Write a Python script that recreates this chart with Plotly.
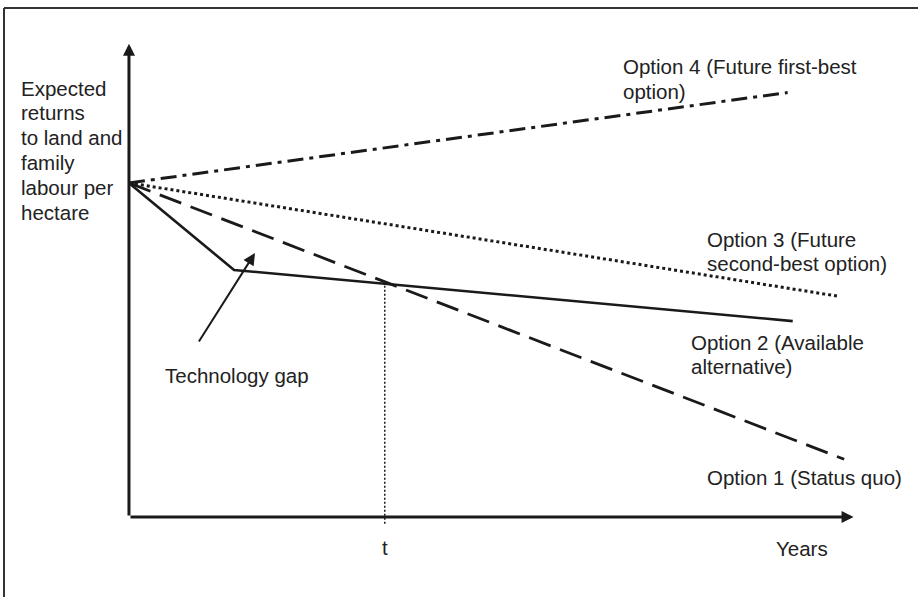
import plotly.graph_objects as go

# ---- data (conceptual units: years on x, expected returns on y) ----
opt1_x = [0.0, 9.87]
opt1_y = [7.06, 1.22]
opt2_x = [0.0, 1.45, 9.16]
opt2_y = [7.06, 5.22, 4.14]
opt3_x = [0.0, 9.77]
opt3_y = [7.06, 4.67]
opt4_x = [0.0, 9.09]
opt4_y = [7.06, 8.97]
t_value = 3.53
t_line_y = [4.97, -0.15]

y_label_lines = ["Expected", "returns", "to land and", "family", "labour per", "hectare"]
label_lines = [
    ["Option 4 (Future first-best", "option)"],
    ["Option 3 (Future", "second-best option)"],
    ["Option 2 (Available", "alternative)"],
    ["Option 1 (Status quo)"],
]
label_x = [6.785, 7.956, 7.728, 7.956]
label_y_top = [9.518, 5.875, 3.698, 0.845]
gap_text = "Technology gap"
gap_tail = (0.952, 3.677)
gap_head = (1.739, 5.579)

W, H = 918, 597
x_range = [-1.780, 10.889]
y_range = [-1.691, 10.926]
LINE_STEP = 0.526  # one text line in y units

INK = "#1a1a1a"
FONT = dict(family="Liberation Sans, Arial, sans-serif", size=20.5, color="#222222")

fig = go.Figure()

def line(x, y, dash, width=2.6):
    fig.add_trace(go.Scatter(x=x, y=y, mode="lines",
                             line=dict(color=INK, width=width, dash=dash),
                             hoverinfo="skip", showlegend=False))

line(opt4_x, opt4_y, "16px,6px,4px,6px", 3)
line(opt3_x, opt3_y, "3px,3px", 3)
line(opt1_x, opt1_y, "23px,10px", 2.8)
line(opt2_x, opt2_y, "solid", 2.6)
line([t_value, t_value], t_line_y, "2px,2px", 1.5)

# axes with arrowheads
fig.add_annotation(x=10, y=0, ax=0, ay=0, xref="x", yref="y", axref="x", ayref="y",
                   text="", showarrow=True, arrowhead=2, arrowsize=0.8,
                   arrowwidth=3, arrowcolor=INK)
fig.add_annotation(x=0, y=10, ax=0, ay=0, xref="x", yref="y", axref="x", ayref="y",
                   text="", showarrow=True, arrowhead=2, arrowsize=0.8,
                   arrowwidth=3, arrowcolor=INK)

# technology gap arrow
fig.add_annotation(x=gap_head[0], y=gap_head[1], ax=gap_tail[0], ay=gap_tail[1],
                   xref="x", yref="y", axref="x", ayref="y",
                   text="", showarrow=True, arrowhead=2, arrowsize=1.2,
                   arrowwidth=2, arrowcolor=INK)

def text(x, y, s, anchor="left"):
    fig.add_annotation(x=x, y=y, xref="x", yref="y", text=s, showarrow=False,
                       xanchor=anchor, yanchor="middle", font=FONT)

for i, s in enumerate(y_label_lines):
    text(-1.522, 9.066 - i * LINE_STEP, s)
for lines, lx, ly in zip(label_lines, label_x, label_y_top):
    for i, s in enumerate(lines):
        text(lx, ly - i * LINE_STEP, s)
text(0.469, 2.98, gap_text)
text(t_value, -0.655, "t", "center")
text(9.288, -0.676, "Years", "center")

# outer frame (top and left visible)
fig.add_shape(type="line", xref="paper", yref="paper", x0=4 / W, x1=1.01,
              y0=1 - 8 / H, y1=1 - 8 / H, line=dict(color="#333333", width=2))
fig.add_shape(type="line", xref="paper", yref="paper", x0=4 / W, x1=4 / W,
              y0=-0.01, y1=1 - 8 / H, line=dict(color="#333333", width=2))

fig.update_layout(
    width=W, height=H,
    margin=dict(l=0, r=0, t=0, b=0),
    paper_bgcolor="white", plot_bgcolor="white",
    xaxis=dict(range=x_range, visible=False, fixedrange=True),
    yaxis=dict(range=y_range, visible=False, fixedrange=True),
    showlegend=False,
)

fig.write_html("out.html",
               config={"displayModeBar": False, "staticPlot": True},
               post_script="document.body.style.margin='0';document.body.style.padding='0';")
